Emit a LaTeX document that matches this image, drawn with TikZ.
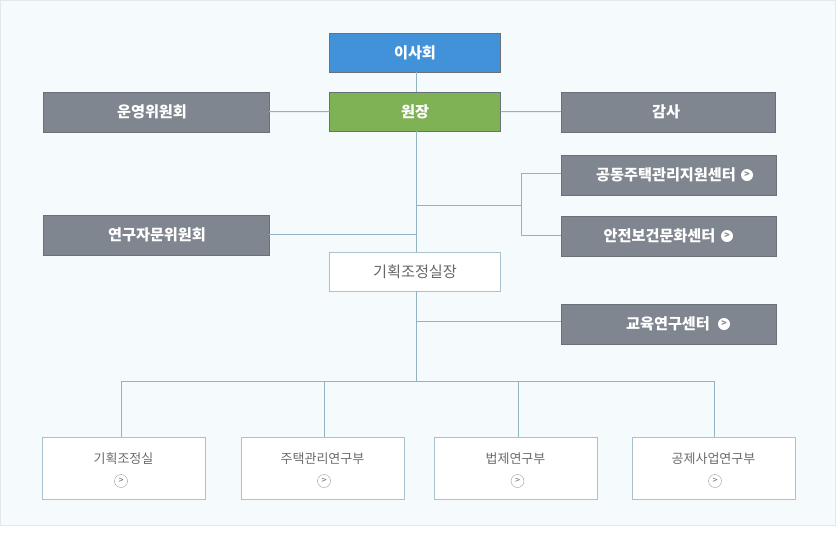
\documentclass[tikz,border=0pt]{standalone}
\usepackage{fontspec}
\setmainfont{Noto Sans CJK KR}
\usetikzlibrary{positioning}

\definecolor{panelbg}{HTML}{F5FAFD}
\definecolor{panelln}{HTML}{E3E8EA}
\definecolor{linkcol}{HTML}{93B2C2}
\definecolor{darkbox}{HTML}{80868F}
\definecolor{darkln}{HTML}{687078}
\definecolor{bluebox}{HTML}{4192D9}
\definecolor{greenbox}{HTML}{7FB255}
\definecolor{lightln}{HTML}{ABC2CE}

\begin{document}
\begin{tikzpicture}
[x=1pt,y=1pt,node distance=20pt, every node/.style={inner sep=0pt,outer sep=0pt},
  dark node/.style={rectangle,draw=darkln,fill=darkbox,text=white,font=\fontsize{15.2}{16}\selectfont\bfseries,
    minimum width=226pt,minimum height=40pt},
  head node/.style={dark node,minimum width=171pt,minimum height=39pt},
  white node/.style={rectangle,draw=lightln,fill=white,text=black!60,font=\fontsize{15.2}{16}\selectfont,
    minimum width=171pt,minimum height=39pt},
  dept node/.style={rectangle,draw=lightln,fill=white,minimum width=163pt,minimum height=62pt},
  dept text/.style={text=black!58,font=\fontsize{13}{15}\selectfont},
  wtext node/.style={text=white,font=\fontsize{15.2}{16}\selectfont\bfseries},
  more node/.style={circle,fill=white,minimum size=12pt,text=darkbox,font=\fontsize{9}{9}\selectfont\bfseries},
  open node/.style={circle,draw=black!40,fill=white,minimum size=13pt,text=black!60,font=\fontsize{9}{9}\selectfont},
  link/.style={draw=linkcol,line width=1pt}]

    \path[use as bounding box] (0,0) rectangle (836,-550);
    \draw[draw=panelln,fill=panelbg] (0.5,-0.5) rectangle (835.5,-525.5);

    \node [head node,fill=bluebox] (board) at (415,-52.5) {이사회};
    \node [head node,fill=greenbox] (dir) [below=20pt of board] {원장};
    \node [dark node] (ops) at (156,-111.9) {};
    \node [dark node,minimum width=214pt] (audit) at (668,-111.9) {};
    \node [dark node,minimum width=215pt] (house) at (668.5,-175) {};
    \node [dark node,minimum width=215pt] (safe) [below=21pt of house] {};
    \node [dark node] (adv) at (156,-234.9) {};
    \node [white node] (plan) at (415,-271.5) {기획조정실장};
    \node [dark node,minimum width=215pt] (edu) at (668.5,-324) {};

    \node [wtext node] (opst) at (152,-111.5) {운영위원회};
    \node [wtext node] (auditt) at (666,-111.5) {감사};
    \node [wtext node] (advt) at (157,-234.5) {연구자문위원회};
    \node [wtext node] (houset) at (666,-174.5) {공동주택관리지원센터};
    \node [more node] (housem) at (747,-175) {>};
    \node [wtext node] (safet) at (659.5,-235.5) {안전보건문화센터};
    \node [more node] (safem) at (727,-236) {>};
    \node [wtext node] (edut) at (668,-323.5) {교육연구센터};
    \node [more node] (edum) at (724,-324) {>};

    \node [dept node] (d1) at (123.5,-468) {};
    \node [dept node] (d2) at (322.5,-468) {};
    \node [dept node] (d3) at (515.5,-468) {};
    \node [dept node] (d4) at (713.5,-468) {};
    \node [dept text] (d1t) at (123.5,-459) {기획조정실};
    \node [dept text] (d2t) at (322.5,-459) {주택관리연구부};
    \node [dept text] (d3t) at (515.5,-459) {법제연구부};
    \node [dept text] (d4t) at (713.5,-459) {공제사업연구부};
    \node [open node] (d1m) at (121,-481) {>};
    \node [open node] (d2m) at (324,-481) {>};
    \node [open node] (d3m) at (517.5,-481) {>};
    \node [open node] (d4m) at (715,-481) {>};

    \coordinate (trunk) at (416.5,-205);
    \coordinate (fork) at (521,-205);
    \coordinate (bus) at (416.5,-381);
    \coordinate (housej) at (561,-173);
    \coordinate (safej) at (561,-235);
    \coordinate (eduj) at (416.5,-321);

    \draw[link] (board.south -| trunk) -- (dir.north -| trunk);
    \draw[link] (ops) -- (dir);
    \draw[link] (dir) -- (audit);
    \draw[link] (dir.south -| trunk) -- (plan.north -| trunk);
    \draw[link] (trunk) -- (fork);
    \draw[link] (housej) -| (fork);
    \draw[link] (safej) -| (fork);
    \draw[link] (adv.east) -- (adv.east -| trunk);
    \draw[link] (plan.south -| trunk) -- (bus);
    \draw[link] (eduj) -- (eduj -| edu.west);
    \draw[link] (d1.north -| 121.5,0) |- (bus);
    \draw[link] (d2.north -| 324,0) |- (bus);
    \draw[link] (d3.north -| 518,0) |- (bus);
    \draw[link] (d4.north -| 714,0) |- (bus);
\end{tikzpicture}
\end{document}
